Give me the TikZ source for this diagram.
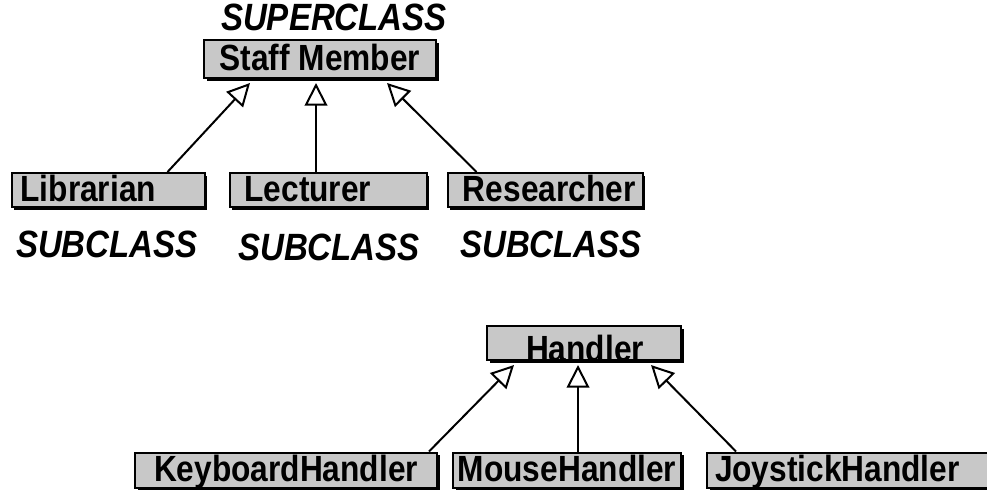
\documentclass[tikz,border=0pt]{standalone}
\usepackage{fontspec}
\setmainfont{Liberation Sans}
\newfontfamily\clsfont[FakeStretch=0.87]{Liberation Sans}
\usetikzlibrary{positioning, shadows, arrows.meta}

\definecolor{clsgray}{RGB}{200,200,200}
\newcommand{\pxu}{0.75pt}

\tikzset{
    cls/.style={draw, fill=clsgray, line width=1.5pt, inner ysep=0pt,
        minimum height=34*\pxu, text height=21.5pt, text depth=4pt,
        font=\clsfont\fontsize{27.3}{30}\selectfont\bfseries,
        drop shadow={shadow xshift=2.2pt, shadow yshift=-2.2pt, fill=black, opacity=1}},
    tag/.style={font=\clsfont\fontsize{28.5}{31}\selectfont\bfseries\itshape},
    inherit/.style={line width=1.5pt, -{Triangle[open, length=17pt, width=17pt, line width=1.5pt]}}
}

\begin{document}
\begin{tikzpicture}[x=\pxu, y=-\pxu]
        \useasboundingbox (0,0) rectangle (987,495);

        % Staff member hierarchy
        \node[tag] (super) at (334,17) {SUPERCLASS};
        \node[cls, minimum width=232*\pxu, minimum height=38*\pxu] (staff) at (320,59) {Staff Member};

        \node[cls, text width=175*\pxu, inner xsep=9*\pxu, align=left] (lib) at (108,190) {Librarian};
        \node[cls, text width=167*\pxu, inner xsep=15*\pxu, align=left] (lec) at (328,190) {Lecturer};
        \node[cls, text width=181*\pxu, inner xsep=7*\pxu, align=right] (res) at (545,190) {Researcher};

        \node[tag] (sub-1) at (107,244) {SUBCLASS};
        \node[tag] (sub-2) at (329,247) {SUBCLASS};
        \node[tag] (sub-3) at (551,244) {SUBCLASS};

        % Connect subclasses to the superclass
        \draw[inherit] ([shift={(-38,0)}]lib.north east) -- ([shift={(47,4)}]staff.south west);
        \draw[inherit] (lec.north -| 316,0) -- ([shift={(-4,4)}]staff.south);
        \draw[inherit] ([shift={(30,0)}]res.north west) -- ([shift={(-50,4)}]staff.south east);

        % Handler hierarchy
        \node[cls, minimum width=194*\pxu, minimum height=32*\pxu] (handler) at (584,343) {};
        \node[font=\clsfont\fontsize{27.3}{30}\selectfont\bfseries] (handler-txt) at (585,348) {Handler};

        \node[cls, minimum width=302*\pxu, minimum height=35*\pxu] (kbd) at (286,470) {KeyboardHandler};
        \node[cls, minimum width=228*\pxu, minimum height=35*\pxu] (mouse) at (567,470) {MouseHandler};
        \node[cls, text width=272*\pxu, inner xsep=8*\pxu, align=left, minimum height=35*\pxu] (joy) at (851,470) {JoystickHandler};

        \draw[inherit] ([shift={(-9,0)}]kbd.north east) -- ([shift={(28,4)}]handler.south west);
        \draw[inherit] (mouse.north -| 578,0) -- ([shift={(-6,4)}]handler.south);
        \draw[inherit] ([shift={(30,0)}]joy.north west) -- ([shift={(-31,4)}]handler.south east);
    \end{tikzpicture}
\end{document}
